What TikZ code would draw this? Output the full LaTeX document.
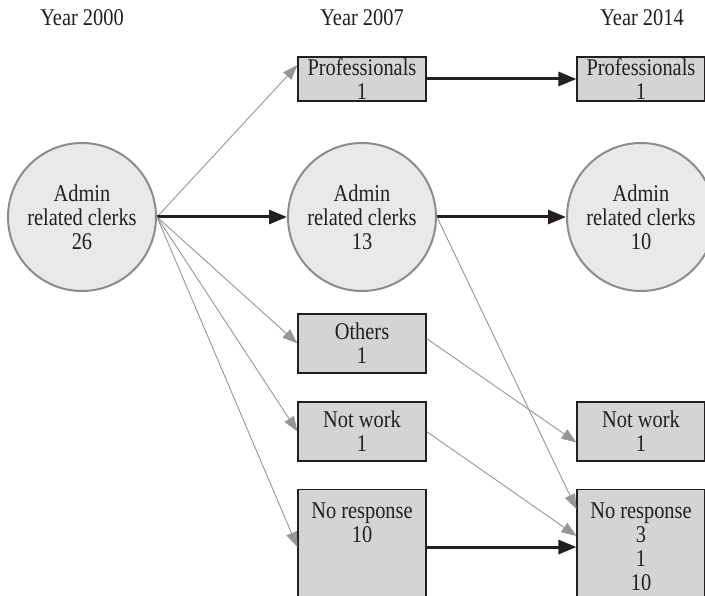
\documentclass[tikz,border=0pt]{standalone}
\usepackage{fontspec}
\setmainfont{Liberation Serif}[FakeStretch=0.85]
\usetikzlibrary{arrows.meta}
\definecolor{BoxCol}{RGB}{211,212,214}
\definecolor{CircCol}{RGB}{233,233,233}
\definecolor{RimCol}{RGB}{140,140,140}
\definecolor{FlowCol}{RGB}{150,150,150}
\definecolor{MainCol}{RGB}{35,31,32}
\tikzset{
  grouptext/.style={align=center,font=\fontsize{24}{24}\selectfont,text=MainCol},
  groupbox/.style={grouptext,draw=MainCol,line width=1.1pt,fill=BoxCol,minimum width=128pt,inner sep=0pt},
  groupcirc/.style={grouptext,circle,draw=RimCol,line width=2pt,fill=CircCol,minimum size=148pt,inner sep=0pt},
  flow/.style={draw=FlowCol,line width=0.9pt,-{Triangle[length=15pt,width=11pt]}},
  mainflow/.style={draw=MainCol,line width=3pt,-{Triangle[length=18pt,width=14pt]}}
}

\begin{document}
\begin{tikzpicture}[x=1pt,y=-1pt]
            \useasboundingbox (0,0) rectangle (705,596);

            \node[grouptext] (yr00) at (82,18) {Year 2000};
            \node[grouptext] (yr07) at (362,18) {Year 2007};
            \node[grouptext] (yr14) at (642,18) {Year 2014};

            \node[groupcirc] (adm00) at (82,217) {Admin\\related clerks\\26};
            \node[groupcirc] (adm07) at (362,217) {Admin\\related clerks\\13};
            \node[groupcirc] (adm14) at (641,217) {Admin\\related clerks\\10};

            \node[groupbox,minimum height=44pt] (prof07) at (362,79) {Professionals\\1};
            \node[groupbox,minimum height=59pt] (oth07) at (362,343.5) {Others\\1};
            \node[groupbox,minimum height=59pt] (nw07) at (362,431.5) {Not work\\1};
            \node[groupbox,minimum height=115pt,anchor=north] (nr07) at (362,489) {No response\\10\\~\\~};

            \node[groupbox,minimum height=44pt] (prof14) at (641,79) {Professionals\\1};
            \node[groupbox,minimum height=59pt] (nw14) at (641,431.5) {Not work\\1};
            \node[groupbox,minimum height=115pt,anchor=north] (nr14) at (641,489) {No response\\3\\1\\10};

            \draw[flow] (adm00.east) -- ([yshift=14pt]prof07.west);
            \draw[mainflow] (adm00.east) -- (adm07.west);
            \draw[flow] (adm00.east) -- (oth07.west);
            \draw[flow] (adm00.east) -- (nw07.west);
            \draw[flow] (adm00.east) -- (nr07.west);

            \draw[mainflow] (prof07.east) -- (prof14.west);
            \draw[mainflow] (adm07.east) -- (adm14.west);
            \draw[flow] (adm07.east) -- ([yshift=38pt]nr14.west);
            \draw[flow] ([yshift=5pt]oth07.east) -- ([yshift=-11pt]nw14.west);
            \draw[flow] (nw07.east) -- ([yshift=11pt]nr14.west);
            \draw[mainflow] (nr07.east) -- (nr14.west);
        \end{tikzpicture}
\end{document}
